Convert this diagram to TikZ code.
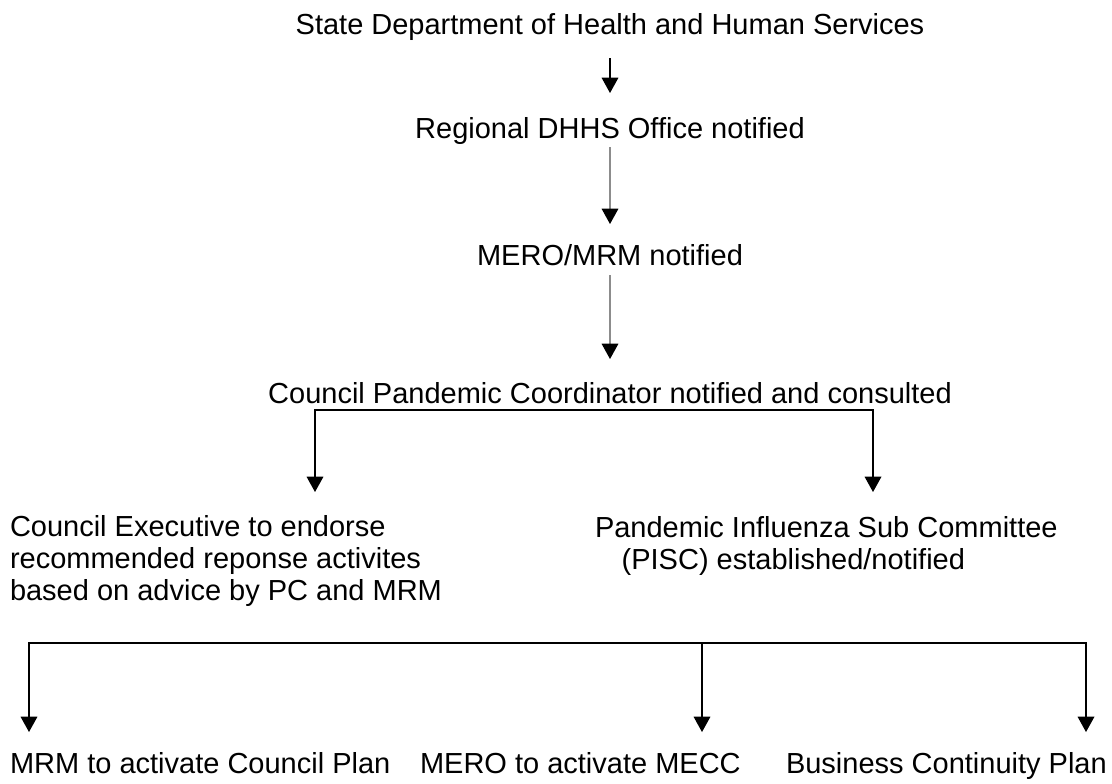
\documentclass[tikz,border=0pt]{standalone}
\usepackage{fontspec}
\setmainfont{Liberation Sans}
\usetikzlibrary{arrows.meta}
\tikzset{txt/.style={inner sep=0pt, outer sep=0pt,
           font=\fontsize{21.75pt}{24pt}\selectfont},
         flow/.style={draw, line width=0.9pt,
           -{Triangle[width=12.5pt,length=11.5pt,color=black]}},
         fork/.style={draw, line width=0.9pt,
           {Triangle[width=12.5pt,length=11.5pt]}-{Triangle[width=12.5pt,length=11.5pt]}},
         faint/.style={draw=black!45}}

\begin{document}
\begin{tikzpicture}[x=0.75pt,y=-0.75pt]
  \useasboundingbox (0,0) rectangle (1112,783);
  % chain of notification
  \node[txt,anchor=base] (state) at (610,34) {State Department of Health and Human Services};
  \node[txt,anchor=base] (regional) at (610,138) {Regional DHHS Office notified};
  \node[txt,anchor=base] (mero) at (610,265) {MERO/MRM notified};
  \node[txt,anchor=base] (council) at (610,403) {Council Pandemic Coordinator notified and consulted};
  \node[txt,anchor=north west,align=left] (exec) at (10,515)
    {Council Executive to endorse\\recommended reponse activites\\based on advice by PC and MRM};
  \node[txt,anchor=north west,align=left] (pisc) at (595,516)
    {Pandemic Influenza Sub Committee\\\hspace*{20pt}(PISC) established/notified};
  \node[txt,anchor=base west] (mrm) at (10,773) {MRM to activate Council Plan};
  \node[txt,anchor=base west] (mecc) at (420,773) {MERO to activate MECC};
  \node[txt,anchor=base west] (bcp) at (786,773) {Business Continuity Plan};
  % connectors
  \foreach \name/\from/\to in {s/58/93, r/147/224, m/275/359} {
    \coordinate (\name0) at (610,\from);
    \coordinate (\name1) at (610,\to);
  }
  \draw[flow] (s0) -- (s1);
  \foreach \name in {r,m}
    \draw[flow,faint] (\name0) -- (\name1);
  \coordinate (cl) at (315,410);
  \coordinate (cr) at (873,410);
  \draw[fork] (cl |- 0,492) -- (cl) -- (cr) -- (cr |- 0,492);
  \coordinate (bl) at (29,643);
  \coordinate (bm) at (702,643);
  \coordinate (br) at (1086,643);
  \draw[fork] (bl |- 0,732) -- (bl) -- (br) -- (br |- 0,732);
  \draw[flow] (bm) -- (bm |- 0,732);
\end{tikzpicture}
\end{document}
